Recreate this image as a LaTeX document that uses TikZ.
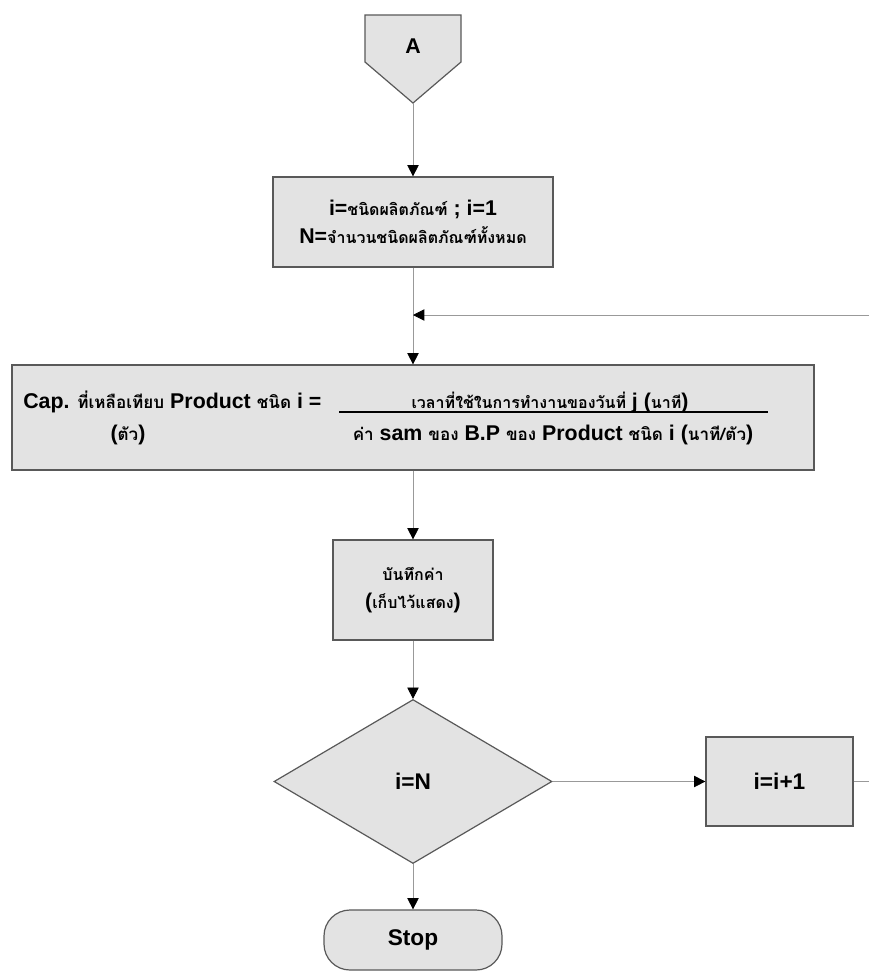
\documentclass[tikz,border=0pt]{standalone}
\usepackage{fontspec}
\setmainfont{Liberation Sans}
\newfontfamily\thaifont[Script=Thai]{Loma}
\usetikzlibrary{arrows.meta,shapes.geometric}
% Thai words are set smaller than the Latin text around them
\newcommand\thaitxt[1]{{\thaifont\bfseries\fontsize{12pt}{14pt}\selectfont #1}}
\newcommand\thaiwide[1]{{\thaifont\bfseries\fontsize{12.8pt}{14pt}\selectfont #1}}

\begin{document}
\begin{tikzpicture}[x=0.75pt,y=-0.75pt,
  box/.style={draw=black!65, line width=0.9pt, fill=black!11, inner sep=0pt},
  flow/.style={draw=black!40, line width=0.6pt,
    -{Triangle[length=8.5pt,width=8.5pt,color=black]}},
  plain/.style={draw=black!40, line width=0.6pt},
  lat/.style={font=\fontsize{16pt}{21pt}\selectfont\bfseries},
  latb/.style={font=\fontsize{17pt}{21pt}\selectfont\bfseries},
  txt/.style={lat, inner sep=0pt}
]
\useasboundingbox (0,0) rectangle (869,976);
\fill[white] (0,0) rectangle (869,976);

% off-page connector
\draw[box] (365,15) -- (461,15) -- (461,62) -- (413,103) -- (365,62) -- cycle;
\node[lat] (A) at (413,46) {A};
\coordinate (Atip) at (413,103);

% initialisation
\node[box, lat, align=center, minimum width=280*0.75pt, minimum height=90*0.75pt]
  (b1) at (413,222) {i=\thaitxt{ชนิดผลิตภัณฑ์} ; i=1\\N=\thaitxt{จำนวนชนิดผลิตภัณฑ์ทั้งหมด}};

% capacity formula
\node[box, minimum width=802*0.75pt, minimum height=105*0.75pt] (b2) at (413,417.5) {};
\node[txt, anchor=base west] (capl) at (23,408)
  {Cap. \thaiwide{ที่เหลือเทียบ} Product \thaiwide{ชนิด} i =};
\node[txt, anchor=base] (capu) at (128,440) {(\thaiwide{ตัว})};
\node[txt, anchor=base] (num) at (550,408)
  {\thaitxt{เวลาที่ใช้ในการทำงานของวันที่} j (\thaitxt{นาที})};
\coordinate (barL) at (339,412);
\coordinate (barR) at (768,412);
\draw[line width=0.9pt] (barL) -- (barR);
\node[txt, anchor=base] (den) at (553,440)
  {\thaiwide{ค่า} sam \thaiwide{ของ} B.P \thaiwide{ของ} Product \thaiwide{ชนิด} i (\thaiwide{นาที/ตัว})};

% record value
\node[box, lat, align=center, minimum width=160*0.75pt, minimum height=100*0.75pt]
  (b3) at (413,590) {\thaitxt{บันทึกค่า}\\(\thaitxt{เก็บไว้แสดง})};

% decision
\node[box, diamond, latb, minimum width=278*0.75pt, minimum height=164*0.75pt]
  (dec) at (413,781.5) {i=N};

% increment
\node[box, latb, minimum width=147*0.75pt, minimum height=89*0.75pt]
  (b4) at (779.5,781.5) {i=i+1};

% terminator
\node[box, latb, rounded corners=26*0.75pt, minimum width=178*0.75pt, minimum height=60*0.75pt]
  (stop) at (413,940) {Stop};

% connectors
\coordinate (junc) at (413,315);
\coordinate (loopin) at (869,315);
\coordinate (loopout) at (869,781.5);
\draw[flow] (Atip) -- (b1.north);
\draw[flow] (b1.south) -- (b2.north);
\draw[flow] (loopin) -- (junc);
\draw[flow] (b2.south) -- (b3.north);
\draw[flow] (b3.south) -- (dec.north);
\draw[flow] (dec.east) -- (b4.west);
\draw[plain] (b4.east) -- (loopout);
\draw[flow] (dec.south) -- (stop.north);
\end{tikzpicture}
\end{document}
